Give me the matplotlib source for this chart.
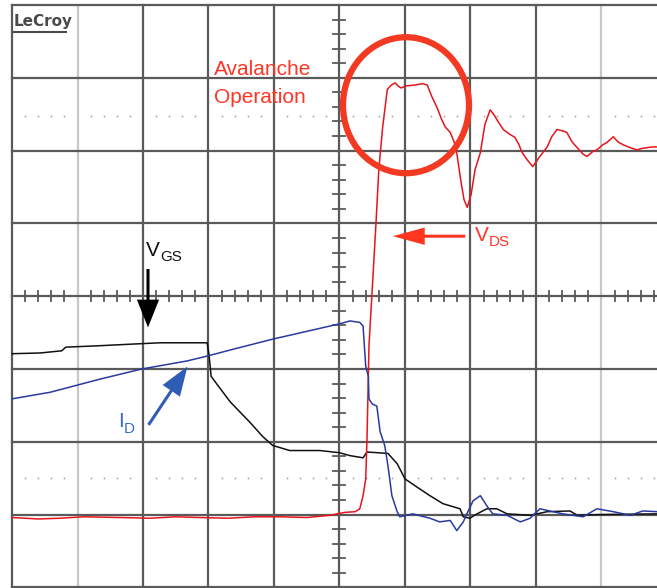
import matplotlib
matplotlib.use('Agg')
import matplotlib.pyplot as plt
from matplotlib.patches import Ellipse, FancyArrowPatch

# scope screen: 10 x 8 divisions, values in divisions from screen centre
vds_t = [-5.0, -4.6, -4.27, -3.9, -3.35, -2.9, -2.5, -2.13, -1.7, -1.3, -0.91, -0.5,
         -0.15, 0.08, 0.24, 0.31, 0.36, 0.40, 0.42, 0.45, 0.50, 0.56, 0.60, 0.66,
         0.73, 0.79, 0.85, 0.89, 0.94, 1.02, 1.15, 1.27, 1.34, 1.41, 1.49, 1.55,
         1.61, 1.69, 1.75, 1.79, 1.85, 1.90, 1.95, 2.01, 2.07, 2.15, 2.22, 2.30,
         2.36, 2.42, 2.50, 2.59, 2.68, 2.74, 2.79, 2.86, 2.95, 3.06, 3.17, 3.24,
         3.32, 3.41, 3.47, 3.55, 3.63, 3.72, 3.78, 3.87, 3.93, 4.02, 4.08, 4.18,
         4.25, 4.33, 4.44, 4.54, 4.62, 4.69, 4.77, 4.85]
vds = [-3.04, -3.06, -3.05, -3.03, -3.04, -3.05, -3.03, -3.04, -3.05, -3.03, -3.03, -3.04,
       -3.01, -2.97, -2.96, -2.92, -2.74, -2.51, -1.96, -0.68, 0.10, 1.05, 1.74, 2.33,
       2.84, 2.90, 2.93, 2.89, 2.86, 2.89, 2.90, 2.92, 2.90, 2.74, 2.59, 2.45,
       2.33, 2.25, 2.12, 1.97, 1.60, 1.33, 1.22, 1.40, 1.74, 1.97, 2.36, 2.56,
       2.49, 2.40, 2.29, 2.23, 2.18, 2.08, 1.97, 1.88, 1.78, 1.92, 2.05, 2.19,
       2.29, 2.27, 2.25, 2.12, 2.04, 1.95, 1.92, 1.99, 2.01, 2.08, 2.11, 2.19,
       2.12, 2.08, 2.04, 2.01, 2.03, 2.04, 2.05, 2.05]

id_t = [-5.0, -4.42, -3.66, -3.02, -2.33, -2.01, -1.63, -1.02, -0.34, 0.0, 0.16, 0.31,
        0.36, 0.40, 0.44, 0.45, 0.50, 0.57, 0.62, 0.69, 0.74, 0.80, 0.88, 0.92,
        1.12, 1.38, 1.53, 1.69, 1.79, 1.89, 1.96, 2.04, 2.15, 2.25, 2.34, 2.56,
        2.76, 2.91, 3.06, 3.21, 3.41, 3.72, 3.93, 4.18, 4.44, 4.63, 4.85]
id_v = [-1.41, -1.32, -1.14, -1.00, -0.89, -0.82, -0.73, -0.59, -0.45, -0.38, -0.34, -0.36,
        -0.41, -0.96, -1.10, -1.41, -1.48, -1.51, -1.86, -2.05, -2.33, -2.74, -2.96, -3.03,
        -2.99, -3.05, -3.10, -3.08, -3.22, -3.10, -2.96, -2.81, -2.74, -2.88, -2.99, -3.01,
        -3.10, -3.05, -2.92, -2.95, -2.99, -3.03, -2.92, -2.96, -3.01, -2.95, -2.96]

vgs_t = [-5.0, -4.57, -4.24, -4.18, -3.66, -3.21, -2.74, -2.02, -1.99, -1.96, -1.92, -1.82,
         -1.67, -1.52, -1.37, -1.17, -1.02, -0.76, -0.30, 0.0, 0.16, 0.36, 0.42, 0.74,
         0.88, 1.0, 1.18, 1.38, 1.58, 1.84, 1.89, 1.99, 2.10, 2.25, 2.40, 2.56,
         2.91, 3.17, 3.52, 3.63, 3.93, 4.85]
vgs = [-0.79, -0.78, -0.75, -0.70, -0.68, -0.66, -0.64, -0.64, -0.82, -1.10, -1.15, -1.27,
       -1.45, -1.59, -1.73, -1.93, -2.05, -2.12, -2.12, -2.15, -2.19, -2.22, -2.14, -2.16,
       -2.30, -2.51, -2.62, -2.74, -2.85, -2.92, -3.03, -3.05, -2.99, -2.92, -2.92, -2.99,
       -3.01, -2.96, -2.95, -3.01, -3.00, -2.99]

SX = 65.5
SY = 72.8


def px(x, y):
    # screenshot pixel -> divisions (for annotations only)
    return (x - 339.5) / SX, (297 - y) / SY


fig = plt.figure(figsize=(6.57, 5.88), dpi=100)
ax = fig.add_axes([0, 0, 1, 1])
ax.set_xlim(-5 - 12 / SX, -5 + 645 / SX)
ax.set_ylim(4 - 583 / SY, 4 + 5 / SY)
ax.axis('off')

grid = '#5a5a5a'
for i in range(-5, 6):
    c = '#c8c8c8' if i in (-4, 4) else grid
    ax.plot([i, i], [-4, 4], color=c, lw=1.6, zorder=1)
for j in range(-4, 5):
    ax.plot([-5, 5], [j, j], color=grid, lw=1.6, zorder=1)

# centre axis ticks
for k in range(-25, 26):
    if k % 5:
        ax.plot([k / 5, k / 5], [-5 / SY, 5 / SY], color=grid, lw=1.3, zorder=1)
for k in range(-20, 21):
    if k % 5:
        ax.plot([-6 / SX, 6 / SX], [k / 5, k / 5], color=grid, lw=1.3, zorder=1)

# dotted cursor lines
dx = [k / 5 for k in range(-25, 26) if k % 5]
for yl in (2.47, -2.5):
    ax.plot(dx, [yl] * len(dx), ls='none', marker='s', ms=1.1, mew=0,
            color='#9a9a9a', zorder=1)

ax.plot(vgs_t, vgs, color='#111111', lw=1.1, zorder=3)
ax.plot(vds_t, vds, color='#e8141c', lw=1.1, zorder=4)
ax.plot(id_t, id_v, color='#2a3a9e', lw=1.1, zorder=5)

# LeCroy logo
x0, y0 = px(14, 22)
ax.text(x0, y0, 'LeCroy', fontsize=11, fontweight='bold', color='#4a4a4a',
        ha='left', va='center', family='DejaVu Sans')
ax.plot([px(14, 33)[0], px(66, 33)[0]], [px(14, 33)[1]] * 2, color='#4a4a4a', lw=1.5)

red_txt = '#ff3526'
ax.text(*px(214, 70), 'Avalanche', fontsize=15, color=red_txt, ha='left', va='center',
        family='Liberation Sans')
ax.text(*px(214, 98), 'Operation', fontsize=15, color=red_txt, ha='left', va='center',
        family='Liberation Sans')

ax.add_patch(Ellipse(px(406, 106), 126 / SX, 136 / SY, fill=False,
                     edgecolor='#f23a22', lw=4.5, zorder=6))


def arrow(tail, tip, color, hl, hw):
    a = FancyArrowPatch(px(*tail), px(*tip),
                        arrowstyle='simple,head_length=%s,head_width=%s,tail_width=0.22' % (hl, hw),
                        mutation_scale=10, color=color, lw=0, zorder=7)
    ax.add_patch(a)


arrow((468, 237), (390, 237), '#ff3520', 2.3, 1.25)
arrow((148, 267), (148, 331), '#000000', 2.0, 1.6)
arrow((147, 428), (189, 365), '#2f5cb4', 2.1, 1.5)

ax.text(*px(475, 236), 'V', fontsize=15, color=red_txt, ha='left', va='center',
        family='Liberation Sans')
ax.text(*px(489, 243), 'DS', fontsize=11, color=red_txt, ha='left', va='center',
        family='Liberation Sans')
ax.text(*px(146, 251), 'V', fontsize=15, color='#111111', ha='left', va='center',
        family='Liberation Sans')
ax.text(*px(160, 258), 'GS', fontsize=11, color='#111111', ha='left', va='center',
        family='Liberation Sans')
ax.text(*px(118, 422), 'I', fontsize=15, color='#3a6cc8', ha='left', va='center',
        family='Liberation Sans')
ax.text(*px(124, 430), 'D', fontsize=11, color='#3a6cc8', ha='left', va='center',
        family='Liberation Sans')

fig.savefig('out.png', dpi=100)
